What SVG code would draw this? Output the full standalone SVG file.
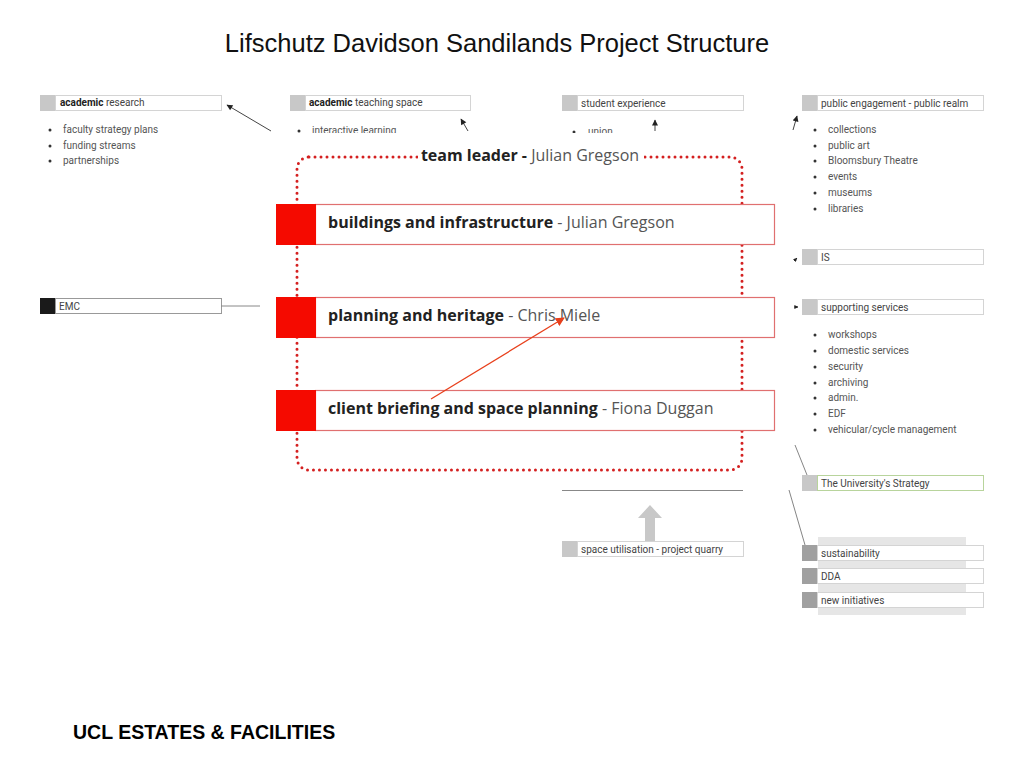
<svg xmlns="http://www.w3.org/2000/svg" width="1024" height="768" viewBox="0 0 1024 768">
<defs>
<marker id="ah" viewBox="0 0 10 10" refX="9" refY="5" markerWidth="8" markerHeight="6" orient="auto" markerUnits="userSpaceOnUse">
<path d="M0,0 L10,5 L0,10 z" fill="#222"/>
</marker>
<marker id="ahs" viewBox="0 0 10 10" refX="9" refY="5" markerWidth="4" markerHeight="4" orient="auto" markerUnits="userSpaceOnUse">
<path d="M0,0 L10,5 L0,10 z" fill="#222"/>
</marker>
<marker id="ahr" viewBox="0 0 10 10" refX="9" refY="5" markerWidth="9" markerHeight="9" orient="auto" markerUnits="userSpaceOnUse">
<path d="M0,0 L10,5 L0,10 z" fill="#e8401c"/>
</marker>
</defs>
<style>
.title{font-family:"Liberation Sans",Arial,sans-serif;font-size:25.5px;fill:#111}
.foot{font-family:"Liberation Sans",Arial,sans-serif;font-size:19.5px;font-weight:bold;fill:#000}
.sq{fill:#c8c8c8}
.sqd{fill:#a0a0a0}
.box{fill:#fff;stroke:#d4d4d4;stroke-width:1}
.lbl{font-family:Roboto,"Liberation Sans",sans-serif;font-size:10px;fill:#444}
.b{font-weight:bold;fill:#222}
.bul{font-family:Roboto,"Liberation Sans",sans-serif;font-size:10px;fill:#555}
.dot{fill:#333}
.con{stroke:#444;stroke-width:1;fill:none}
.rsq{fill:#f50a00}
.rbox{fill:#fff;stroke:#e07070;stroke-width:1.2}
.big{font-family:"Open Sans","DejaVu Sans",sans-serif;font-size:16px;fill:#555}
.bigb{font-weight:bold;fill:#222}
</style>
<rect width="1024" height="768" fill="#fff"/>
<text class="title" x="497" y="52" text-anchor="middle">Lifschutz Davidson Sandilands Project Structure</text>

<g id="academic-research">
<rect class="box" x="55.5" y="95.5" width="166" height="15"/>
<rect class="sq" x="40" y="95" width="15" height="16"/>
<text class="lbl" x="60" y="106"><tspan class="b">academic</tspan> research</text>
<circle class="dot" cx="50" cy="130" r="1.5"/><text class="bul" x="63" y="133">faculty strategy plans</text>
<circle class="dot" cx="50" cy="146" r="1.5"/><text class="bul" x="63" y="149">funding streams</text>
<circle class="dot" cx="50" cy="161" r="1.5"/><text class="bul" x="63" y="164">partnerships</text>
</g>

<g id="academic-teaching">
<rect class="box" x="305.5" y="95.5" width="165" height="15"/>
<rect class="sq" x="290" y="95" width="15" height="16"/>
<text class="lbl" x="309" y="106"><tspan class="b">academic</tspan> teaching space</text>
<circle class="dot" cx="299" cy="131" r="1.5"/><text class="bul" x="312" y="134">interactive learning</text>
</g>

<g id="student-experience">
<rect class="box" x="577.5" y="95.5" width="166" height="15"/>
<rect class="sq" x="562" y="95" width="15" height="16"/>
<text class="lbl" x="581" y="107">student experience</text>
<circle class="dot" cx="574" cy="132" r="1.5"/><text class="bul" x="588" y="135">union</text>
</g>

<g id="public-engagement">
<rect class="box" x="817.5" y="95.5" width="166" height="15"/>
<rect class="sq" x="802" y="95" width="15" height="16"/>
<text class="lbl" x="821" y="107">public engagement - public realm</text>
<circle class="dot" cx="815" cy="130" r="1.5"/><text class="bul" x="828" y="133">collections</text>
<circle class="dot" cx="815" cy="146" r="1.5"/><text class="bul" x="828" y="149">public art</text>
<circle class="dot" cx="815" cy="161" r="1.5"/><text class="bul" x="828" y="164">Bloomsbury Theatre</text>
<circle class="dot" cx="815" cy="177" r="1.5"/><text class="bul" x="828" y="180">events</text>
<circle class="dot" cx="815" cy="193" r="1.5"/><text class="bul" x="828" y="196">museums</text>
<circle class="dot" cx="815" cy="209" r="1.5"/><text class="bul" x="828" y="212">libraries</text>
</g>

<g id="is">
<rect class="box" x="817.5" y="249.5" width="166" height="15"/>
<rect class="sq" x="802" y="249" width="15" height="16"/>
<text class="lbl" x="821" y="261">IS</text>
</g>

<g id="supporting-services">
<rect class="box" x="817.5" y="299.5" width="166" height="15"/>
<rect class="sq" x="802" y="299" width="15" height="16"/>
<text class="lbl" x="821" y="311">supporting services</text>
<circle class="dot" cx="815" cy="335" r="1.5"/><text class="bul" x="828" y="338">workshops</text>
<circle class="dot" cx="815" cy="351" r="1.5"/><text class="bul" x="828" y="354">domestic services</text>
<circle class="dot" cx="815" cy="367" r="1.5"/><text class="bul" x="828" y="370">security</text>
<circle class="dot" cx="815" cy="383" r="1.5"/><text class="bul" x="828" y="386">archiving</text>
<circle class="dot" cx="815" cy="398" r="1.5"/><text class="bul" x="828" y="401">admin.</text>
<circle class="dot" cx="815" cy="414" r="1.5"/><text class="bul" x="828" y="417">EDF</text>
<circle class="dot" cx="815" cy="430" r="1.5"/><text class="bul" x="828" y="433">vehicular/cycle management</text>
</g>

<g id="emc">
<rect class="box" x="55.5" y="298.5" width="166" height="15" style="stroke:#999"/>
<rect x="40" y="298" width="15" height="16" fill="#1a1a1a"/>
<text class="lbl" x="59" y="310">EMC</text>
</g>

<g id="university-strategy">
<rect class="box" x="817.5" y="475.5" width="166" height="15" style="stroke:#b8d49c"/>
<rect class="sq" x="802" y="475" width="15" height="16"/>
<text class="lbl" x="821" y="487">The University's Strategy</text>
</g>

<g id="strategy-group">
<rect x="818" y="537" width="148" height="78" fill="#e6e6e6"/>
<rect class="box" x="817.5" y="545.5" width="166" height="15"/>
<rect class="sqd" x="802" y="545" width="15" height="16"/>
<text class="lbl" x="821" y="557">sustainability</text>
<rect class="box" x="817.5" y="568.5" width="166" height="15"/>
<rect class="sqd" x="802" y="568" width="15" height="16"/>
<text class="lbl" x="821" y="580">DDA</text>
<rect class="box" x="817.5" y="592.5" width="166" height="15"/>
<rect class="sqd" x="802" y="592" width="15" height="16"/>
<text class="lbl" x="821" y="604">new initiatives</text>
</g>

<g id="space-utilisation">
<rect class="box" x="577.5" y="541.5" width="166" height="15"/>
<rect class="sq" x="562" y="541" width="15" height="16"/>
<text class="lbl" x="581" y="553">space utilisation - project quarry</text>
</g>

<!-- white overlay that hides the lower part of the top lists -->
<rect x="272" y="133" width="520" height="356" fill="#fff"/>

<g id="connectors">
<line class="con" x1="271" y1="131" x2="227" y2="105" marker-end="url(#ah)"/>
<line class="con" x1="468" y1="131" x2="461" y2="119" marker-end="url(#ah)"/>
<line class="con" x1="655" y1="131" x2="655" y2="120" marker-end="url(#ah)"/>
<line class="con" x1="793" y1="130" x2="797" y2="116" marker-end="url(#ah)"/>
<line class="con" x1="794" y1="261" x2="797" y2="258" marker-end="url(#ahs)"/>
<line class="con" x1="794" y1="307" x2="798" y2="307" marker-end="url(#ahs)"/>
<line x1="221" y1="306" x2="260" y2="306" stroke="#888" stroke-width="1"/>
<line x1="795" y1="445" x2="807" y2="475" stroke="#666" stroke-width="0.8"/>
<line x1="789" y1="490" x2="805" y2="545" stroke="#666" stroke-width="0.8"/>
<line x1="562" y1="490.5" x2="743" y2="490.5" stroke="#888" stroke-width="1"/>
<path d="M645,541 L645,518 L638,518 L650,505 L662,518 L655,518 L655,541 z" fill="#c8c8c8"/>
</g>

<g id="team-leader">
<rect x="297" y="157" width="445" height="313" rx="12" fill="none" stroke="#d42020" stroke-width="3" stroke-dasharray="0 6" stroke-linecap="round"/>
<rect x="418" y="145" width="226" height="22" fill="#fff"/>
<text class="big" x="530" y="161" text-anchor="middle"><tspan class="bigb">team leader -</tspan> Julian Gregson</text>
</g>

<g id="buildings">
<rect class="rbox" x="315.5" y="204.5" width="459" height="40"/>
<rect class="rsq" x="276" y="204" width="40" height="41"/>
<text class="big" x="328" y="228"><tspan class="bigb">buildings and infrastructure</tspan> - Julian Gregson</text>
</g>

<g id="planning">
<rect class="rbox" x="315.5" y="297.5" width="459" height="40"/>
<rect class="rsq" x="276" y="297" width="40" height="41"/>
<text class="big" x="328" y="321"><tspan class="bigb">planning and heritage</tspan> - Chris Miele</text>
</g>

<g id="client-briefing">
<rect class="rbox" x="315.5" y="390.5" width="459" height="40"/>
<rect class="rsq" x="276" y="390" width="40" height="41"/>
<text class="big" x="328" y="414"><tspan class="bigb">client briefing and space planning</tspan> - Fiona Duggan</text>
</g>

<g id="red-connector">
<line x1="431" y1="399" x2="564" y2="318" stroke="#e8401c" stroke-width="1.3" marker-end="url(#ahr)"/>
</g>

<text class="foot" x="73" y="739">UCL ESTATES &amp; FACILITIES</text>
</svg>
